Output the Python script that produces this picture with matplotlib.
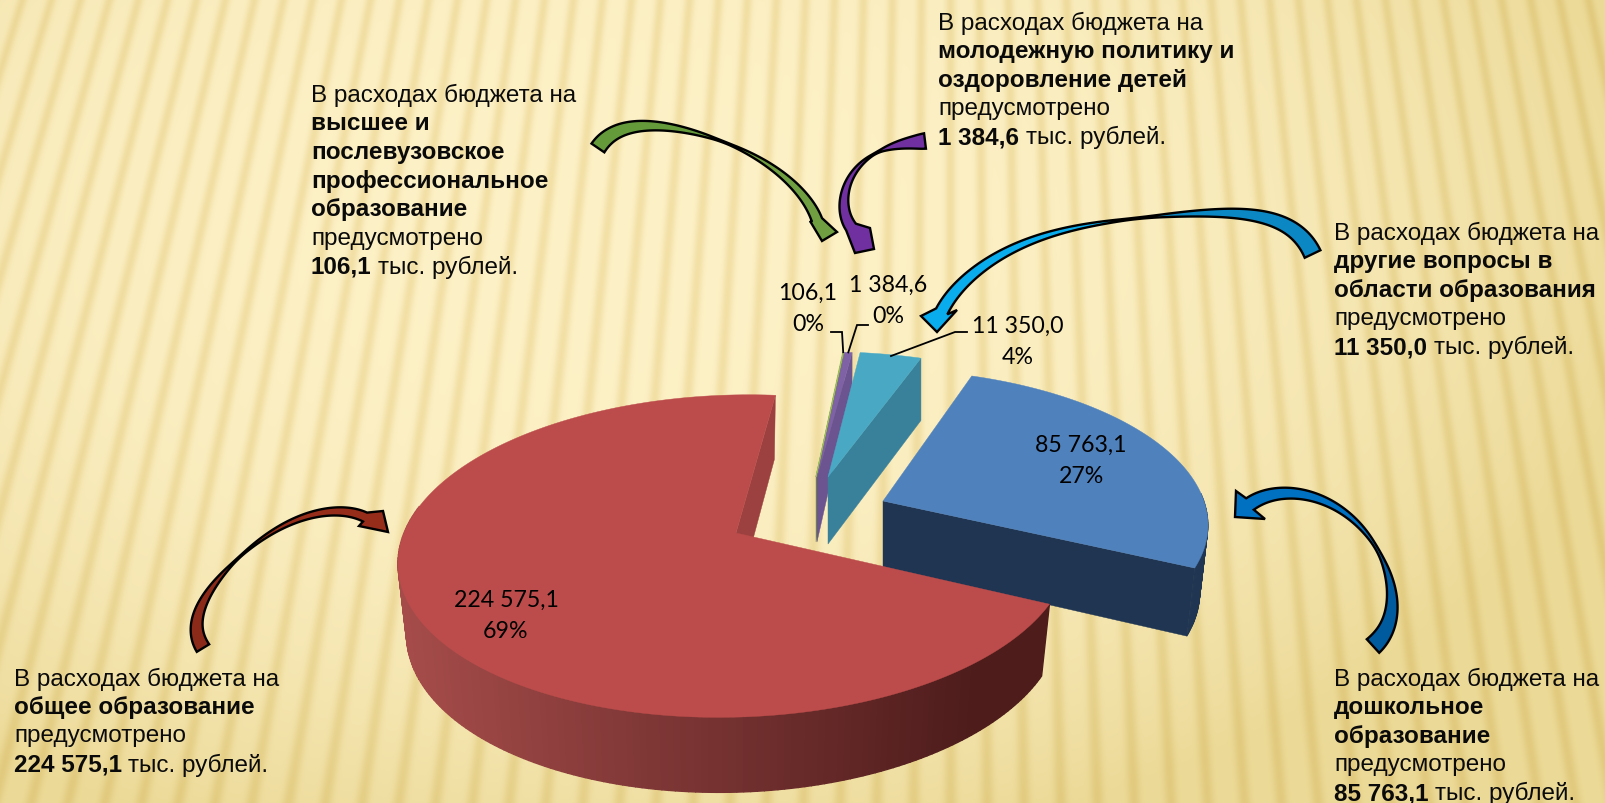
import numpy as np
import matplotlib
matplotlib.use("Agg")
import matplotlib.pyplot as plt
from matplotlib.patches import Polygon

# ---------- data ----------
categories = ["общее образование", "дошкольное образование", "другие вопросы",
              "молодежная политика", "высшее образование"]
values = [224575.1, 85763.1, 11350.0, 1384.6, 106.1]
percent_labels = ["69%", "27%", "4%", "0%", "0%"]

# ---------- styles ----------
W, H = 1605, 804
top_colors = ["#BC4C4B", "#4F81BD", "#49A9C4", "#7F62A6", "#9BBB59"]
wall_colors = ["#9C413F", "#1F3552", "#39809A", "#6C5490", "#6C8A3C"]
start_angle = 84.8
# cx, cy, a, b, d, k, depth_back, depth_front, bottom_scale
geometry = [
    (736, 534, 332, 15, 158, 0.143, 64, 75, 0.975),
    (883, 502, 321, -7.6, 149.4, 0.134, 61, 71, 0.975),
    (828, 478, 317, -1.6, 141.5, 0.13, 62, 72, 1.0),
    (817, 478, 320, 1.4, 141.5, 0.13, 33, 97, 1.0),
    (816, 478, 320, 1.4, 141.5, 0.13, 33, 97, 1.0),
]
draw_order = [1, 4, 3, 2, 0]
label_font = ["Lato", "DejaVu Sans"]
text_font = ["Liberation Sans", "DejaVu Sans"]
LABEL_SIZE = 16.7
TEXT_SIZE = 17.45

fig = plt.figure(figsize=(W / 100, H / 100), dpi=100)
ax = fig.add_axes([0, 0, 1, 1])
ax.set_xlim(0, W)
ax.set_ylim(H, 0)
ax.axis("off")

# ---------- background ----------
yy, xx = np.mgrid[0:H, 0:W]
xc, D0, spacing = 950.0, 3000.0, 29.0
s = (xx - xc) / (yy + D0) * D0 / spacing
stripe = np.cos(np.pi * s) ** 6
r2 = ((xx - 600) / 1050.0) ** 2 + ((yy - 230) / 640.0) ** 2
t = np.clip(r2, 0, 1)[..., None] ** 1.3
light = np.array([253, 241, 199]) / 255.0
dark = np.array([236, 218, 152]) / 255.0
base = light * (1 - t) + dark * t
stripe_f = 1 - stripe[..., None] * np.array([0.043, 0.07, 0.165])
ax.imshow(np.clip(base * stripe_f, 0, 1), extent=(0, W, H, 0), aspect="auto",
          zorder=0, interpolation="bilinear")
ax.set_xlim(0, W)
ax.set_ylim(H, 0)


# ---------- 3D pie ----------
def proj(theta, g, lower=False):
    th = np.radians(theta)
    cx, cy, a, b, d, k, db, df, sc = g
    u, v = np.cos(th), np.sin(th)
    den = 1 + k * v
    x = (a * u + b * v) / den
    y = -d * v / den
    if lower:
        x = x * sc
        y = y + db + (df - db) * (1 - v) / 2
    return cx + x, cy + y


def apex(g, lower=False):
    cx, cy, db, df = g[0], g[1], g[6], g[7]
    return cx, cy + ((db + df) / 2 if lower else 0)


fractions = np.array(values) / np.sum(values)
sweeps = fractions * 360.0
starts = start_angle + np.concatenate([[0], np.cumsum(sweeps)[:-1]])
ends = starts + sweeps


def lerp_color(c1, c2, f):
    c1, c2 = np.array(matplotlib.colors.to_rgb(c1)), np.array(matplotlib.colors.to_rgb(c2))
    return c1 * (1 - f) + c2 * f


for i in draw_order:
    g = geometry[i]
    th0, th1 = starts[i], ends[i]
    # side wall
    pts = [proj(th0, g), proj(th0, g, True), apex(g, True), apex(g)]
    ax.add_patch(Polygon(pts, closed=True, fc=wall_colors[i], ec=wall_colors[i], lw=0.3, zorder=2))
    # outer wall
    if i == 0:
        thetas = np.linspace(max(th0, 170), th1, 160)
        x_min, x_max = proj(180, g)[0], proj(th1, g)[0]
        for a0, a1 in zip(thetas[:-1], thetas[1:]):
            xm = proj((a0 + a1) / 2, g)[0]
            f = np.clip((xm - x_min) / (x_max - x_min - 70), 0, 1)
            col = lerp_color("#A54C4A", "#4D1C1B", f)
            q = [proj(a0, g), proj(a1, g), proj(a1, g, True), proj(a0, g, True)]
            ax.add_patch(Polygon(q, closed=True, fc=col, ec=col, lw=1.0, zorder=2))
    elif i == 1:
        thetas = np.linspace(th0, 360 + 3, 40)
        for a0, a1 in zip(thetas[:-1], thetas[1:]):
            q = [proj(a0, g), proj(a1, g), proj(a1, g, True), proj(a0, g, True)]
            ax.add_patch(Polygon(q, closed=True, fc=wall_colors[1], ec=wall_colors[1], lw=0.5, zorder=2))
    # top face
    arc = np.linspace(th0, th1, 240)
    px, py = proj(arc, g)
    poly = np.column_stack([np.r_[g[0], px], np.r_[g[1], py]])
    lw = 0.8 if i == 4 else 0.3
    ax.add_patch(Polygon(poly, closed=True, fc=top_colors[i], ec=top_colors[i], lw=lw, zorder=2))


# ---------- labels ----------
def fmt(v):
    return f"{v:,.1f}".replace(",", " ").replace(".", ",")


label_pos = [(506, 616), (1081, 461), (1018, 342), (888, 301), (808, 309)]
for i, (lx, ly) in enumerate(label_pos):
    ax.text(lx, ly - 16, fmt(values[i]), family=label_font, fontsize=LABEL_SIZE,
            ha="center", va="center", color="black", zorder=4)
    ax.text(lx, ly + 16, percent_labels[i], family=label_font, fontsize=LABEL_SIZE,
            ha="center", va="center", color="black", zorder=4)

for i, knee in [(4, [(831, 333), (842, 333)]), (3, [(868, 326), (857, 326)]), (2, [(967, 333), (955, 333)])]:
    mid = (starts[i] + ends[i]) / 2
    ex, ey = proj(mid, geometry[i])
    if i == 2:
        ex, ey = 891, 357
    ax.plot([knee[0][0], knee[1][0], ex], [knee[0][1], knee[1][1], ey], color="black", lw=1.3, zorder=4,
            solid_joinstyle="miter")


# ---------- arrows ----------
def smooth_path(points, deg=5, n=160):
    p = np.array(points, float)
    chord = np.r_[0, np.cumsum(np.hypot(*np.diff(p, axis=0).T))]
    chord /= chord[-1]
    deg = min(deg, len(p) - 1)
    tt = np.linspace(0, 1, n)
    return np.column_stack([np.polyval(np.polyfit(chord, p[:, 0], deg), tt),
                            np.polyval(np.polyfit(chord, p[:, 1], deg), tt)])


def block_arrow(path, widths, head, col_tail, col_head, pinch):
    c = smooth_path(path)
    seg = np.hypot(*np.diff(c, axis=0).T)
    L = np.r_[0, np.cumsum(seg)]
    f = L / L[-1]
    w = np.interp(f, [0, pinch, 1], widths)
    w_smooth = np.convolve(np.r_[[w[0]] * 8, w, [w[-1]] * 8], np.ones(17) / 17, mode="valid")
    tang = np.gradient(c, axis=0)
    tang /= np.hypot(tang[:, 0], tang[:, 1])[:, None]
    nrm = np.column_stack([-tang[:, 1], tang[:, 0]])
    A = c + nrm * w_smooth[:, None] / 2
    B = c - nrm * w_smooth[:, None] / 2
    b1, tip, b2 = [np.array(h, float) for h in head]
    if np.hypot(*(A[-1] - b1)) > np.hypot(*(B[-1] - b1)):
        b1, b2 = b2, b1
    outline = np.vstack([A, b1, tip, b2, B[::-1]])
    k = np.argmin(np.abs(f - pinch))
    tail_part = np.vstack([A[:k + 1], B[:k + 1][::-1]])
    head_part = np.vstack([A[k:], b1, tip, b2, B[k:][::-1]])
    ax.add_patch(Polygon(tail_part, closed=True, fc=col_tail, ec="none", zorder=5))
    ax.add_patch(Polygon(head_part, closed=True, fc=col_head, ec="none", zorder=5))
    ax.add_patch(Polygon(outline, closed=True, fc="none", ec="black", lw=1.7, zorder=6, joinstyle="miter"))


block_arrow([(598, 149), (618, 132), (647, 127), (700, 135), (750, 155), (797, 190), (817, 221)],
            [16, 0.8, 11], [(810, 222), (822, 242), (837, 233)], "#659A3B", "#6F9F40", 0.52)
block_arrow([(925, 142), (885, 150), (855, 172), (844, 205), (851, 228)],
            [16, 0.8, 12], [(870, 229), (874, 250), (855, 254)], "#7030A0", "#7030A0", 0.36)
block_arrow([(1312, 255), (1297, 233), (1233, 215), (1190, 214), (1100, 225), (1000, 255), (957, 293), (941, 312)],
            [18, 0.8, 13], [(921, 317), (937, 333), (957, 311)], "#0B87C3", "#09ADEE", 0.45)
block_arrow([(1373, 647), (1392, 603), (1377, 550), (1350, 518), (1310, 497), (1277, 495), (1250, 505)],
            [19, 2, 14], [(1236, 492), (1235, 518), (1265, 520)], "#005A9E", "#0070C0", 0.40)
block_arrow([(203, 649), (197, 623), (213, 587), (253, 547), (293, 522), (330, 513), (365, 518)],
            [15, 0.8, 10], [(383, 512), (388, 533), (359, 527)], "#8B2A18", "#962C1A", 0.42)


# ---------- text blocks ----------
renderer = fig.canvas.get_renderer()


def rich_line(x, y, parts):
    for txt, bold in parts:
        t_ = ax.text(x, y, txt, family=text_font, fontsize=TEXT_SIZE, weight="bold" if bold else "normal",
                     ha="left", va="center", color="#0A0A0A", zorder=7)
        x = ax.transData.inverted().transform(t_.get_window_extent(renderer))[1][0]
        x += 6.5


intro, prov, unit = "В расходах бюджета на", "предусмотрено", "тыс. рублей."
blocks = [
    (14, 679, ["общее образование"], 0),
    (1334, 679, ["дошкольное", "образование"], 1),
    (1334, 233, ["другие вопросы в", "области образования"], 2),
    (938, 23, ["молодежную политику и", "оздоровление детей"], 3),
    (311, 95, ["высшее и", "послевузовское", "профессиональное", "образование"], 4),
]
LINE_H = 28.7
for bx, by, bold_lines, idx in blocks:
    rows = [[(intro, False)]] + [[(b, True)] for b in bold_lines] + [[(prov, False)]] + \
           [[(fmt(values[idx]), True), (unit, False)]]
    for j, r in enumerate(rows):
        rich_line(bx, by + j * LINE_H, r)

fig.savefig("out.png", dpi=100)
